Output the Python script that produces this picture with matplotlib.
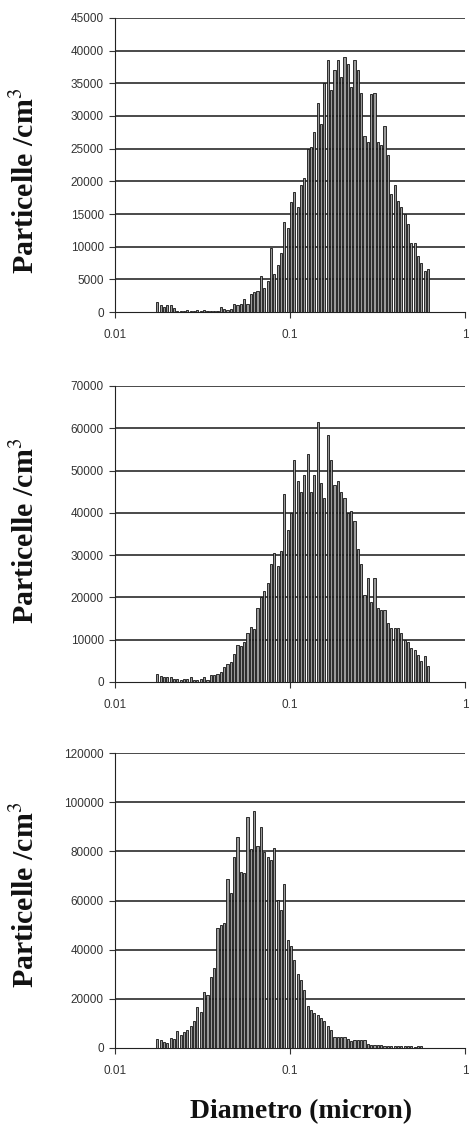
import numpy as np
import matplotlib
matplotlib.use("Agg")
import matplotlib.pyplot as plt
from matplotlib.ticker import FixedLocator, NullLocator

plt.rcParams['font.family'] = ['Liberation Sans', 'DejaVu Sans']
plt.rcParams['mathtext.fontset'] = 'stix'

# bin centres (micron), log-spaced channels of the sizer
diameters = np.geomspace(0.0172, 0.606, 82)

counts_top = [
    1500, 1000, 800, 1100, 1100, 600, 200, 100, 100, 300,
    100, 100, 300, 200, 300, 100, 100, 200, 200, 700,
    400, 300, 400, 1200, 1000, 1300, 2000, 1300, 2800, 3000,
    3200, 5500, 3600, 4800, 9800, 5800, 7200, 9000, 13800, 12800,
    16800, 18300, 16000, 19500, 20500, 25000, 25200, 27500, 32000, 28800,
    35000, 38500, 34000, 37000, 38500, 36000, 39000, 38000, 34500, 38500,
    37000, 33500, 27000, 26000, 33300, 33500, 26000, 25500, 28500, 24000,
    18000, 19500, 17000, 16000, 15000, 13500, 10500, 10500, 8500, 7500,
    6200, 6600,
]

counts_mid = [
    2000, 1400, 1300, 1300, 1300, 800, 600, 500, 700, 600,
    1200, 500, 500, 700, 1100, 400, 1700, 1700, 2000, 2400,
    3600, 4200, 4800, 6700, 8800, 8500, 9500, 11500, 13000, 12500,
    17500, 20000, 21500, 23500, 28000, 30500, 27500, 31000, 44500, 36000,
    40000, 52500, 47500, 45000, 49000, 54000, 45000, 49000, 61500, 47000,
    43500, 58500, 52500, 46500, 47500, 45000, 43500, 40000, 40500, 38000,
    31500, 28000, 20500, 24500, 19000, 24500, 17500, 17000, 17000, 14000,
    12800, 12800, 12800, 11500, 10000, 9500, 8000, 7500, 6300, 5000,
    6200, 3800,
]

counts_bot = [
    3800, 3400, 2300, 2000, 4000, 3700, 6800, 5400, 6500, 7500,
    8800, 10800, 16700, 14500, 22600, 21700, 29000, 32500, 49000, 50000,
    51000, 68700, 63000, 77700, 86000, 71500, 71000, 94000, 81000, 96300,
    82000, 90000, 79600, 77500, 76300, 81500, 60300, 56300, 66800, 43800,
    41600, 35700, 30200, 27800, 23500, 17200, 15300, 14200, 13300, 12200,
    10800, 9100, 7500, 4500, 4300, 4500, 4300, 3800, 3000, 3100,
    3100, 3100, 3100, 1800, 1400, 1100, 1400, 1400, 700, 700,
    700, 900, 700, 700, 700, 700, 700, 400, 700, 700,
    200, 200,
]

panels = [
    (counts_top, 45000, 5000),
    (counts_mid, 70000, 10000),
    (counts_bot, 120000, 20000),
]

xticks = [0.01, 0.1, 1]
xticklabels = ['0.01', '0.1', '1']

W, H = 469, 1128
fig = plt.figure(figsize=(W / 100, H / 100), dpi=100)

# (top px, bottom px, ylabel centre) of each plot area
boxes = [(18, 312, 0.446), (386, 682, 0.51), (753, 1048, 0.52)]
left_px, right_px = 115, 465

step = np.log10(diameters[1] / diameters[0])
widths = diameters * (10 ** (step * 0.65) - 1)

for (counts, ymax, ystep), (t, b, ly) in zip(panels, boxes):
    ax = fig.add_axes([left_px / W, 1 - b / H, (right_px - left_px) / W, (b - t) / H])
    ax.set_xscale('log')
    ax.bar(diameters, counts, width=widths, align='edge',
           color='#9a9a9a', edgecolor='#111111', linewidth=0.6, zorder=3)
    ax.set_xlim(0.01, 1)
    ax.set_ylim(0, ymax)
    yt = np.arange(0, ymax + 1, ystep)
    ax.set_yticks(yt)
    ax.set_yticklabels([str(int(v)) for v in yt])
    ax.xaxis.set_major_locator(FixedLocator(xticks))
    ax.set_xticklabels(xticklabels)
    ax.xaxis.set_minor_locator(NullLocator())
    for v in yt[1:]:
        ax.axhline(v, color='#3a3a3a', linewidth=1.3, zorder=2)
    for s in ['top', 'right']:
        ax.spines[s].set_visible(False)
    ax.spines['left'].set_color('#222222')
    ax.spines['bottom'].set_color('#222222')
    ax.tick_params(axis='both', labelsize=8.5, colors='#333333',
                   length=4, width=0.8, pad=4)
    ax.tick_params(axis='x', pad=8)
    ax.set_ylabel('Particelle /cm$^3$', family='Liberation Serif',
                  fontsize=21.5, fontweight='bold', color='#111111')
    ax.yaxis.set_label_coords(-0.215, ly)

fig.text(301 / W, 1 - 1112 / H, 'Diametro (micron)', family='Liberation Serif',
         fontsize=20, fontweight='bold', ha='center', va='center', color='#111111')

fig.savefig('out.png', dpi=100)
